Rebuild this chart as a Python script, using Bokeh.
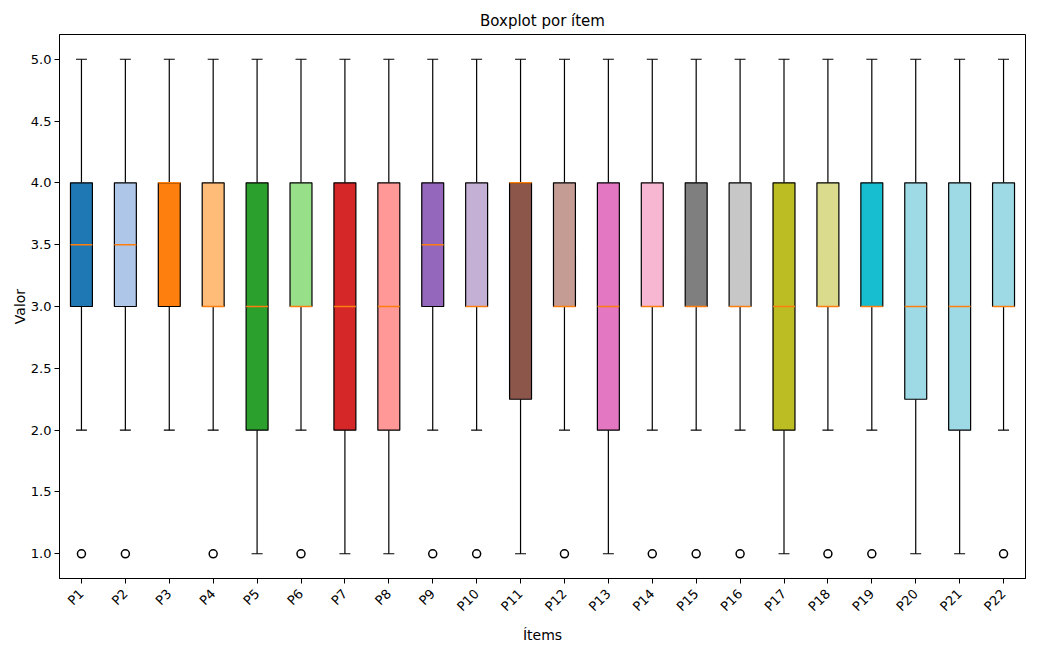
import math
from bokeh.plotting import figure
from bokeh.layouts import row
from bokeh.models import ColumnDataSource, FixedTicker, NumeralTickFormatter, Range1d, Spacer
from bokeh.embed import file_html
from bokeh.resources import INLINE

items = [f"P{i}" for i in range(1, 23)]
q1 = [3, 3, 3, 3, 2, 3, 2, 2, 3, 3, 2.25, 3, 2, 3, 3, 3, 2, 3, 3, 2.25, 2, 3]
median = [3.5, 3.5, 4, 3, 3, 3, 3, 3, 3.5, 3, 4, 3, 3, 3, 3, 3, 3, 3, 3, 3, 3, 3]
q3 = [4] * 22
whisk_lo = [2, 2, 2, 2, 1, 2, 1, 1, 2, 2, 1, 2, 1, 2, 2, 2, 1, 2, 2, 1, 1, 2]
whisk_hi = [5] * 22
outliers = [[1], [1], [], [1], [], [1], [], [], [1], [1], [], [1], [], [1], [1], [1], [], [1], [1], [], [], [1]]
colors = ["#1f77b4", "#aec7e8", "#ff7f0e", "#ffbb78", "#2ca02c", "#98df8a", "#d62728", "#ff9896",
          "#9467bd", "#c5b0d5", "#8c564b", "#c49c94", "#e377c2", "#f7b6d2", "#7f7f7f", "#c7c7c7",
          "#bcbd22", "#dbdb8d", "#17becf", "#9edae5", "#9edae5", "#9edae5"]
y_ticks = [1.0, 1.5, 2.0, 2.5, 3.0, 3.5, 4.0, 4.5, 5.0]

pos = list(range(1, len(items) + 1))
box_w = 0.5
cap_w = 0.25

src = ColumnDataSource(dict(
    x=pos, q1=q1, med=median, q3=q3, lo=whisk_lo, hi=whisk_hi, color=colors,
    x0=[p - box_w / 2 for p in pos], x1=[p + box_w / 2 for p in pos],
    c0=[p - cap_w / 2 for p in pos], c1=[p + cap_w / 2 for p in pos],
))

ox, oy = [], []
for p, outs in zip(pos, outliers):
    for o in outs:
        ox.append(p)
        oy.append(o)

FONT = "DejaVu Sans"
p = figure(width=1013, height=630, output_backend="svg", toolbar_location=None,
           x_range=Range1d(0.5, 22.5), y_range=Range1d(0.8, 5.2),
           title="Boxplot por ítem", min_border_left=43, min_border_right=4,
           min_border_top=34, min_border_bottom=52)
p.frame_width = 966
p.frame_height = 544

p.title.align = "center"
p.title.text_font = FONT
p.title.text_font_style = "normal"
p.title.text_font_size = "15px"
p.title.text_color = "black"

# whiskers
p.segment(x0="x", y0="q3", x1="x", y1="hi", source=src, line_color="black", line_width=1.2)
p.segment(x0="x", y0="q1", x1="x", y1="lo", source=src, line_color="black", line_width=1.2)
# caps
p.segment(x0="c0", y0="hi", x1="c1", y1="hi", source=src, line_color="black", line_width=1.2)
p.segment(x0="c0", y0="lo", x1="c1", y1="lo", source=src, line_color="black", line_width=1.2)
# boxes
p.vbar(x="x", width=box_w, top="q3", bottom="q1", source=src, fill_color="color",
       line_color="black", line_width=1.2)
# medians
p.segment(x0="x0", y0="med", x1="x1", y1="med", source=src, line_color="#ff7f0e", line_width=1.5)
# outliers
p.scatter(ox, oy, marker="circle", size=8, fill_color=None, line_color="black", line_width=1.5)

p.xgrid.visible = False
p.ygrid.visible = False
p.outline_line_color = "black"
p.outline_line_width = 1
p.outline_line_alpha = 1

p.xaxis.ticker = FixedTicker(ticks=pos)
p.xaxis.major_label_overrides = {i: s for i, s in zip(pos, items)}
p.xaxis.major_label_orientation = math.pi / 4
p.xaxis.major_label_standoff = 8
p.yaxis.ticker = FixedTicker(ticks=y_ticks)
p.yaxis.formatter = NumeralTickFormatter(format="0.0")
p.yaxis.major_label_standoff = 3
p.yaxis.axis_label_standoff = 0
p.xaxis.axis_label = "Ítems"
p.yaxis.axis_label = "Valor"

for ax in (p.xaxis[0], p.yaxis[0]):
    ax.minor_tick_line_color = None
    ax.major_tick_in = 0
    ax.major_tick_out = 5
    ax.major_tick_line_color = "black"
    ax.axis_line_color = "black"
    ax.major_label_text_font = FONT
    ax.major_label_text_font_size = "13px"
    ax.major_label_text_color = "black"
    ax.axis_label_text_font = FONT
    ax.axis_label_text_font_size = "14px"
    ax.axis_label_text_font_style = "normal"
    ax.axis_label_text_color = "black"

layout = row(Spacer(width=8, height=630), p)
open("out.html", "w").write(file_html(layout, INLINE))
